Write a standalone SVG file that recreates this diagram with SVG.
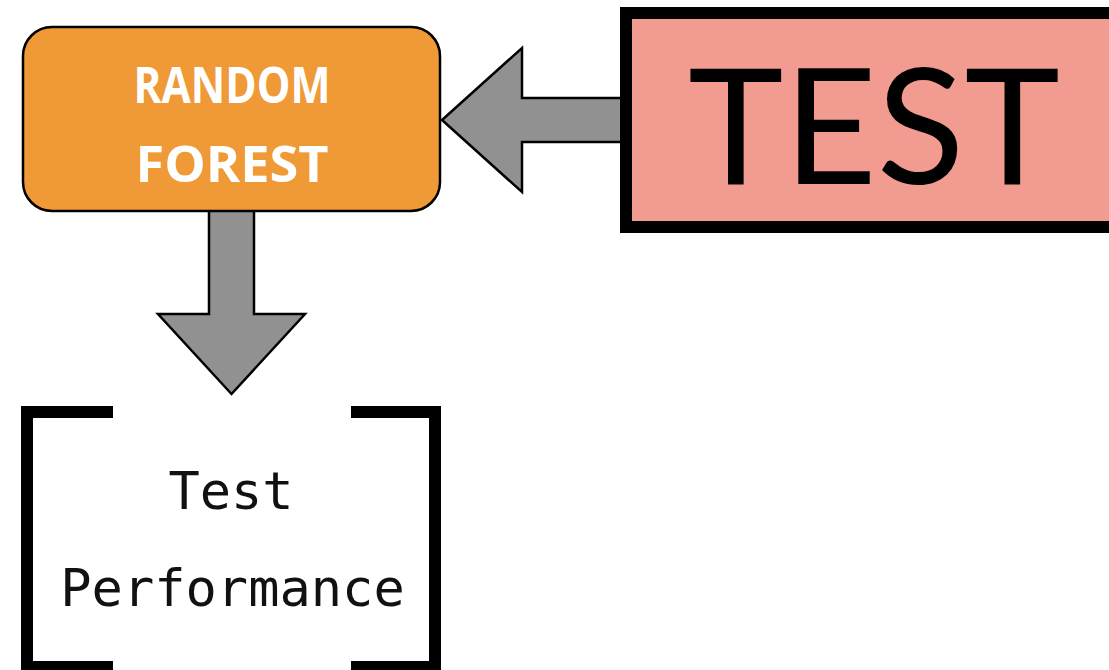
<svg xmlns="http://www.w3.org/2000/svg" width="1109" height="670" viewBox="0 0 1109 670">
  <style>
    .arrow { fill: #919191; stroke: #000; stroke-width: 2.5; stroke-linejoin: miter; }
    .model { fill: #EF9A37; stroke: #000; stroke-width: 2.5; }
    .model-label { font-family: "Open Sans", "Noto Sans", sans-serif; font-weight: 700; font-size: 50px; fill: #fff; text-anchor: middle; }
    .data { fill: #F19B91; stroke: #000; stroke-width: 12; }
    .data-label { font-family: Lato, "Noto Sans", sans-serif; font-weight: 400; font-size: 162px; fill: #000; text-anchor: middle; }
    .bracket { fill: none; stroke: #000; stroke-width: 12; stroke-linecap: butt; stroke-linejoin: miter; }
    .result-label { font-family: "DejaVu Sans Mono", "Liberation Mono", monospace; font-size: 52px; fill: #111; text-anchor: middle; }
  </style>

  <!-- block arrows between the nodes -->
  <g id="connectors">
    <!-- test data into the model -->
    <path class="arrow" d="M626,98 H522 V48 L442,120 L522,192 V142 H626 Z"/>
    <!-- model down to the performance result -->
    <path class="arrow" d="M209,210 V314 H158 L231.5,394 L305,314 H254 V210 Z"/>
  </g>

  <g id="random-forest">
    <rect class="model" x="23" y="27" width="417" height="184" rx="29" ry="29"/>
    <text class="model-label" x="232" y="103" textLength="197" lengthAdjust="spacingAndGlyphs">RANDOM</text>
    <text class="model-label" x="232" y="182" textLength="193" lengthAdjust="spacingAndGlyphs">FOREST</text>
  </g>

  <g id="test-data">
    <rect class="data" x="626" y="13" width="520" height="214"/>
    <text class="data-label" x="874" y="184" textLength="372" lengthAdjust="spacingAndGlyphs">TEST</text>
  </g>

  <g id="test-performance">
    <path class="bracket" d="M113,412 H27 V667 H113"/>
    <path class="bracket" d="M351,412 H435 V667 H351"/>
    <text class="result-label" x="231" y="509">Test</text>
    <text class="result-label" x="232.5" y="606">Performance</text>
  </g>
</svg>
